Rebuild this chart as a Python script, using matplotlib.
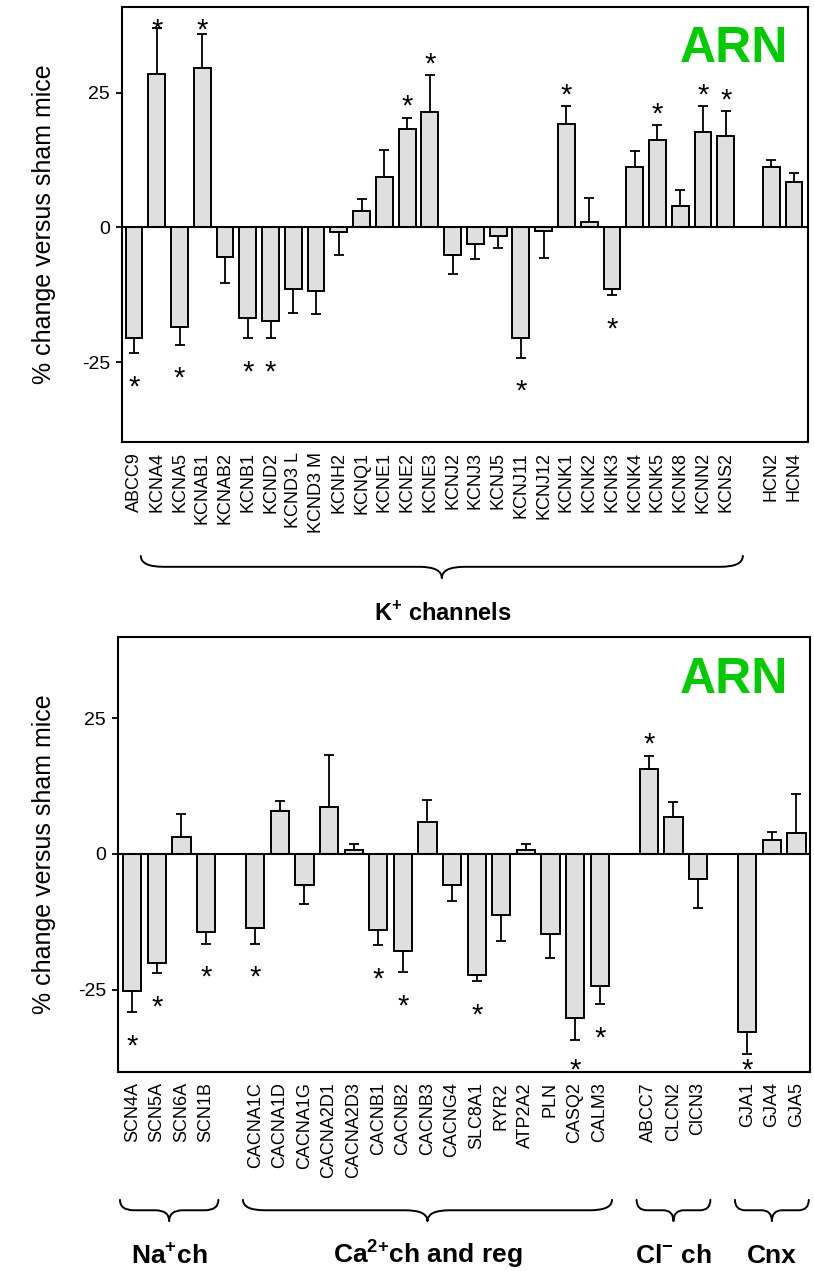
import matplotlib
matplotlib.use('Agg')
import matplotlib.pyplot as plt
from matplotlib.path import Path
from matplotlib.patches import PathPatch
from matplotlib.transforms import blended_transform_factory
import numpy as np

plt.rcParams['font.family'] = ['Liberation Sans', 'DejaVu Sans']
plt.rcParams['axes.unicode_minus'] = False
plt.rcParams['mathtext.fontset'] = 'custom'
plt.rcParams['mathtext.rm'] = 'Liberation Sans'
plt.rcParams['mathtext.bf'] = 'Liberation Sans:bold'

# ---------------- data ----------------
top_genes = ['ABCC9', 'KCNA4', 'KCNA5', 'KCNAB1', 'KCNAB2', 'KCNB1', 'KCND2',
             'KCND3 L', 'KCND3 M', 'KCNH2', 'KCNQ1', 'KCNE1', 'KCNE2', 'KCNE3',
             'KCNJ2', 'KCNJ3', 'KCNJ5', 'KCNJ11', 'KCNJ12', 'KCNK1', 'KCNK2',
             'KCNK3', 'KCNK4', 'KCNK5', 'KCNK8', 'KCNN2', 'KCNS2',
             'HCN2', 'HCN4']
top_group_sizes = [27, 2]
top_values = [-20.6, 28.6, -18.5, 29.6, -5.4, -16.8, -17.4, -11.4, -11.8, -0.9,
              3.0, 9.3, 18.2, 21.4, -5.1, -3.1, -1.6, -20.6, -0.6, 19.3,
              1.0, -11.4, 11.2, 16.3, 3.9, 17.8, 16.9, 11.2, 8.4]
top_errors = [2.8, 8.5, 3.3, 6.3, 5.0, 3.8, 3.2, 4.4, 4.3, 4.2,
              2.2, 5.0, 2.2, 6.9, 3.6, 2.7, 2.2, 3.6, 5.1, 3.2,
              4.4, 1.2, 3.0, 2.7, 3.1, 4.7, 4.7, 1.4, 1.8]
top_significant = ['ABCC9', 'KCNA4', 'KCNA5', 'KCNAB1', 'KCNB1', 'KCND2',
                   'KCNE2', 'KCNE3', 'KCNJ11', 'KCNK1', 'KCNK3', 'KCNK5',
                   'KCNN2', 'KCNS2']
top_group_label = r'K$^{\mathbf{{+}}}$ channels'

bottom_genes = ['SCN4A', 'SCN5A', 'SCN6A', 'SCN1B',
                'CACNA1C', 'CACNA1D', 'CACNA1G', 'CACNA2D1', 'CACNA2D3',
                'CACNB1', 'CACNB2', 'CACNB3', 'CACNG4', 'SLC8A1', 'RYR2',
                'ATP2A2', 'PLN', 'CASQ2', 'CALM3',
                'ABCC7', 'CLCN2', 'ClCN3',
                'GJA1', 'GJA4', 'GJA5']
bottom_group_sizes = [4, 15, 3, 3]
bottom_group_labels = [r'Na$^{\mathbf{{+}}}$ch', r'Ca$^{\mathbf{2{+}}}$ch and reg',
                       r'Cl$^{\mathbf{{-}}}$ ch', 'Cnx']
bottom_values = [-25.2, -20.1, 3.2, -14.4,
                 -13.7, 8.0, -5.8, 8.7, 0.7, -14.0, -17.9, 5.9, -5.7, -22.2,
                 -11.3, 0.8, -14.8, -30.2, -24.4,
                 15.6, 6.8, -4.6,
                 -32.8, 2.6, 3.9]
bottom_errors = [3.9, 1.8, 4.2, 2.1,
                 2.8, 1.8, 3.4, 9.5, 1.2, 2.8, 3.9, 4.0, 2.9, 1.2,
                 4.7, 1.0, 4.4, 4.0, 3.2,
                 2.5, 2.7, 5.3,
                 4.1, 1.5, 7.2]
bottom_significant = ['SCN4A', 'SCN5A', 'SCN1B', 'CACNA1C', 'CACNB1', 'CACNB2',
                      'SLC8A1', 'CASQ2', 'CALM3', 'ABCC7', 'GJA1']

y_ticks = [-25, 0, 25]
y_tick_labels = ['-25', '0', '25']
y_label = '% change versus sham mice'
panel_tag = 'ARN'

# ---------------- helpers ----------------
BAR_FACE = '#dfdfdf'
STAR_SIZE = 21


def positions(group_sizes):
    pos = []
    start = 0
    for n in group_sizes:
        pos.extend(range(start, start + n))
        start += n + 1
    return np.array(pos, dtype=float)


def draw_brace(ax, x0, x1, y_end, y_line, y_tip, d, lw=1.4):
    tr = blended_transform_factory(ax.transData, ax.transAxes)
    xm = (x0 + x1) / 2.0
    verts = [(x0, y_end), (x0, y_line), (x0 + d, y_line),
             (xm - d, y_line),
             (xm, y_line), (xm, y_tip),
             (xm, y_line), (xm + d, y_line),
             (x1 - d, y_line),
             (x1, y_line), (x1, y_end)]
    codes = [Path.MOVETO, Path.CURVE3, Path.CURVE3,
             Path.LINETO,
             Path.CURVE3, Path.CURVE3,
             Path.CURVE3, Path.CURVE3,
             Path.LINETO,
             Path.CURVE3, Path.CURVE3]
    patch = PathPatch(Path(verts, codes), transform=tr, fill=False,
                      edgecolor='black', lw=lw, clip_on=False,
                      capstyle='round', joinstyle='round')
    ax.add_patch(patch)


def draw_panel(ax, genes, sizes, values, errors, significant, xlim, ylim):
    x = positions(sizes)
    v = np.array(values)
    e = np.array(errors)
    lower = np.where(v < 0, e, 0.0)
    upper = np.where(v >= 0, e, 0.0)
    ax.errorbar(x, v, yerr=[lower, upper], fmt='none', ecolor='black',
                elinewidth=1.3, capsize=3.6, capthick=1.3, zorder=2)
    ax.bar(x, v, width=0.74, color=BAR_FACE, edgecolor='black',
           linewidth=1.4, zorder=3)
    ax.axhline(0, color='black', lw=1.5, zorder=4)
    for xi, vi, ei, g in zip(x, v, e, genes):
        if g in significant:
            if vi >= 0:
                ys = min(vi + ei + 3.6, 38.3)
            else:
                ys = max(vi - ei - 4.7, -38.3)
            ax.annotate('*', xy=(xi, ys), xytext=(0, -0.575 * STAR_SIZE),
                        textcoords='offset points', ha='center',
                        va='baseline', fontsize=STAR_SIZE, zorder=5)
    ax.set_xlim(*xlim)
    ax.set_ylim(*ylim)
    ax.set_xticks(x)
    ax.set_xticklabels(genes, rotation=90, fontsize=13)
    ax.tick_params(axis='x', length=0, pad=7.5)
    ax.set_yticks(y_ticks)
    ax.set_yticklabels(y_tick_labels, fontsize=14)
    ax.tick_params(axis='y', length=4.5, width=1.3, pad=4)
    for s in ax.spines.values():
        s.set_linewidth(1.5)
    return x


# ---------------- figure ----------------
fig = plt.figure(figsize=(8.14, 12.71), dpi=100)

ax1 = fig.add_axes([121.7 / 814, 1 - 441.7 / 1271, 686 / 814, 434.4 / 1271])
x1 = draw_panel(ax1, top_genes, top_group_sizes, top_values, top_errors,
                top_significant, (-0.54, 29.6), (-39.8, 40.9))
ax1.text(-0.113, 0.5, y_label, transform=ax1.transAxes, rotation=90,
         ha='center', va='center', fontsize=18)
ax1.text(0.971, 0.874, panel_tag, transform=ax1.transAxes, ha='right',
         va='baseline', fontsize=36, fontweight='bold', color='#00cc00')
k_first, k_last = x1[0], x1[top_group_sizes[0] - 1]
draw_brace(ax1, k_first + 0.3, k_last + 0.75, -0.263, -0.288, -0.314, 1.0)
ax1.text((k_first + k_last) / 2 + 0.55, -0.412, top_group_label,
         transform=blended_transform_factory(ax1.transData, ax1.transAxes),
         ha='center', va='baseline', fontsize=17, fontweight='bold')

ax2 = fig.add_axes([118 / 814, 1 - 1071.7 / 1271, 692 / 814, 434.4 / 1271])
x2 = draw_panel(ax2, bottom_genes, bottom_group_sizes, bottom_values,
                bottom_errors, bottom_significant, (-0.58, 27.55), (-40.1, 39.9))
ax2.text(-0.107, 0.5, y_label, transform=ax2.transAxes, rotation=90,
         ha='center', va='center', fontsize=18)
ax2.text(0.968, 0.872, panel_tag, transform=ax2.transAxes, ha='right',
         va='baseline', fontsize=36, fontweight='bold', color='#00cc00')
idx = 0
tr2 = blended_transform_factory(ax2.transData, ax2.transAxes)
for n, lab in zip(bottom_group_sizes, bottom_group_labels):
    g0, g1 = x2[idx], x2[idx + n - 1]
    span = (g1 - g0) + 1.0
    draw_brace(ax2, g0 - 0.5, g1 + 0.5, -0.295, -0.319, -0.344,
               min(0.9, 0.14 * span))
    ax2.text((g0 + g1) / 2, -0.44, lab, transform=tr2, ha='center',
             va='baseline', fontsize=19, fontweight='bold')
    idx += n

fig.savefig('out.png', dpi=100)
